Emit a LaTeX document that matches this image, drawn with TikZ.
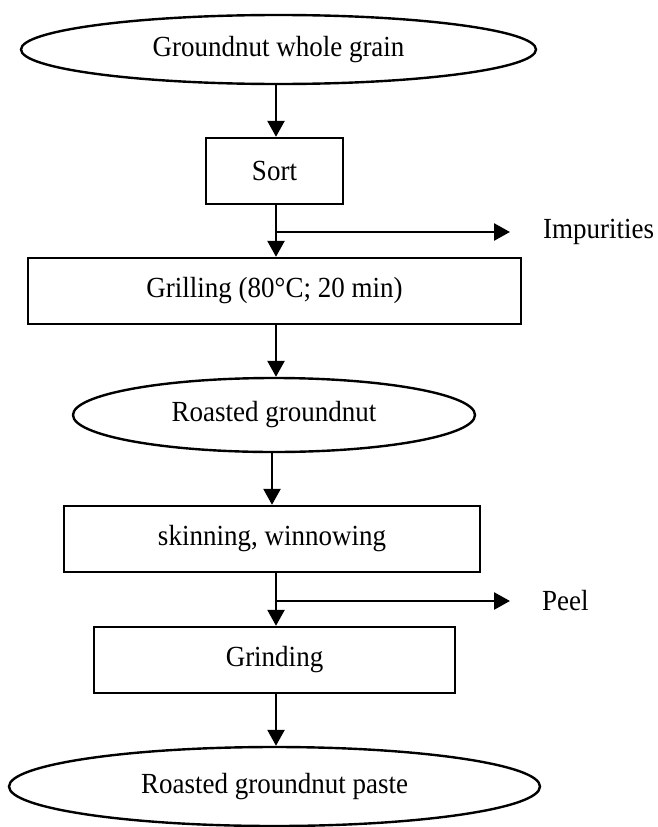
\documentclass[tikz,border=0pt]{standalone}
\usepackage{fontspec}
\usepackage{graphicx}
\setmainfont{Liberation Serif}
\usetikzlibrary{shapes.geometric,arrows.meta}
\newcommand{\talltxt}[1]{\scalebox{1}[1.08]{#1}}
\tikzset{
  every node/.style={font=\fontsize{27}{30}\selectfont, inner sep=0pt},
  procbox/.style={draw, line width=2.4pt, rectangle},
  termell/.style={draw, line width=2.4pt, ellipse},
  flow/.style={line width=2.6pt, -{Triangle[width=17pt,length=16pt]}},
}
\begin{document}
\begin{tikzpicture}[x=1pt,y=-1pt]
\useasboundingbox (0,0) rectangle (657,827);
\node[termell, minimum width=515pt, minimum height=69pt] (e1) at (278.5,49.5) {\talltxt{Groundnut whole grain}};
\node[procbox, minimum width=137pt, minimum height=66pt] (sort) at (274.5,171) {\talltxt{Sort}};
\node[procbox, minimum width=493pt, minimum height=66pt] (grill) at (274.5,291) {\talltxt{Grilling (80°C; 20 min)}};
\node[termell, minimum width=402pt, minimum height=74pt] (e2) at (274,415) {\talltxt{Roasted groundnut}};
\node[procbox, minimum width=416pt, minimum height=66pt] (skin) at (272,539) {\talltxt{skinning, winnowing}};
\node[procbox, minimum width=361pt, minimum height=66pt] (grind) at (274.5,660) {\talltxt{Grinding}};
\node[termell, minimum width=531pt, minimum height=79pt] (e3) at (274.5,786.5) {\talltxt{Roasted groundnut paste}};
\node[anchor=west] (imp) at (543,232) {\talltxt{Impurities}};
\node[anchor=west] (peel) at (542,601) {\talltxt{Peel}};
\coordinate (b1) at (276,232);
\coordinate (t1) at (510,232);
\coordinate (b2) at (276,601);
\coordinate (t2) at (510,601);
\draw[flow] (e1.south -| b1) -- (sort.north -| b1);
\draw[flow] (sort.south -| b1) -- (grill.north -| b1);
\draw[flow] (b1) -- (t1);
\draw[flow] (grill.south -| b1) -- (e2.north -| b1);
\draw[flow] (e2.south -| skin) -- (skin.north);
\draw[flow] (skin.south -| b2) -- (grind.north -| b2);
\draw[flow] (b2) -- (t2);
\draw[flow] (grind.south -| b2) -- (e3.north -| b2);
\end{tikzpicture}
\end{document}
